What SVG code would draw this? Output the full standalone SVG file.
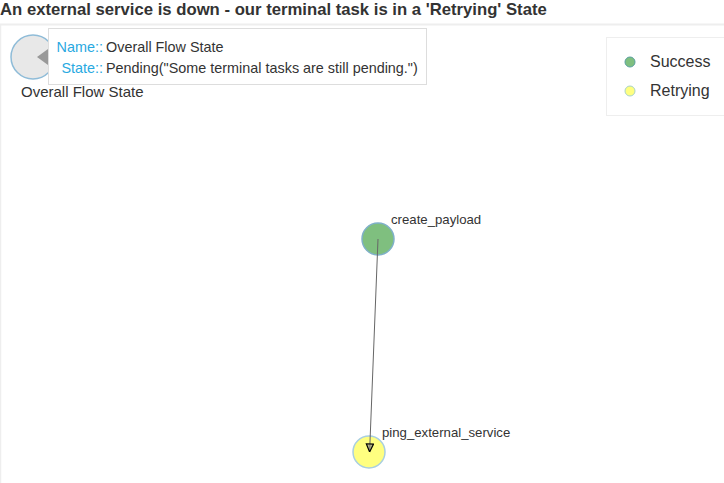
<svg xmlns="http://www.w3.org/2000/svg" width="724" height="483" viewBox="0 0 724 483">
<style>
text{font-family:"Liberation Sans",Arial,sans-serif;fill:#333}
.title{font-size:16.7px;font-weight:bold}
.nlabel{font-size:13.2px}
.tip{font-size:14.4px}
.key{fill:#29a9e1}
.leg{font-size:16px}
.node{stroke:#8fbcd8;stroke-width:1.5}
</style>
<defs>
<marker id="arr" viewBox="0 0 10 10" refX="10" refY="5" markerWidth="10" markerHeight="9" markerUnits="userSpaceOnUse" orient="auto">
<path d="M1,1 L10,5 L1,9 Z" fill="#888" fill-opacity="0.6" stroke="#000" stroke-width="1.3"/>
</marker>
</defs>
<rect width="724" height="483" fill="#fff"/>
<text class="title" x="0" y="15">An external service is down - our terminal task is in a 'Retrying' State</text>
<line x1="0" y1="24.5" x2="724" y2="24.5" stroke="#eee" stroke-width="2"/>
<line x1="0.5" y1="25" x2="0.5" y2="483" stroke="#eee" stroke-width="1.5"/>
<g id="overall">
<circle class="node" cx="33" cy="57" r="22" fill="#e8e8e8"/>
<text x="21" y="97" style="font-size:15px">Overall Flow State</text>
</g>
<g id="create_payload">
<circle class="node" cx="378" cy="239" r="16" fill="#7fbf7f" style="stroke:#7fb0c8"/>
<text class="nlabel" x="391" y="224">create_payload</text>
</g>
<g id="ping_external_service">
<circle class="node" cx="369" cy="452" r="16" fill="#ffff80" style="stroke:#a9cfe0"/>
<text class="nlabel" x="382" y="437">ping_external_service</text>
</g>
<g id="connectors">
<line x1="378" y1="239" x2="369.6" y2="452" stroke="#666" stroke-width="1" marker-end="url(#arr)"/>
</g>
<g id="legend">
<rect x="606.5" y="37.5" width="130" height="78" fill="#fff" stroke="#eee"/>
<circle cx="630" cy="62" r="5" fill="#7fbf7f" stroke="#5aa0a0"/>
<text class="leg" x="650" y="67">Success</text>
<circle cx="630" cy="91" r="5" fill="#ffff80" stroke="#a9d3c9"/>
<text class="leg" x="650" y="96">Retrying</text>
</g>
<g id="tooltip">
<rect x="48.5" y="28.5" width="378" height="56" fill="#fff" stroke="#ddd"/>
<path d="M37,57 L48,49 L48,65 Z" fill="#999"/>
<text class="tip key" x="103" y="52" text-anchor="end">Name::</text>
<text class="tip" x="106" y="52">Overall Flow State</text>
<text class="tip key" x="103" y="73" text-anchor="end">State::</text>
<text class="tip" x="106" y="73">Pending("Some terminal tasks are still pending.")</text>
</g>
</svg>
